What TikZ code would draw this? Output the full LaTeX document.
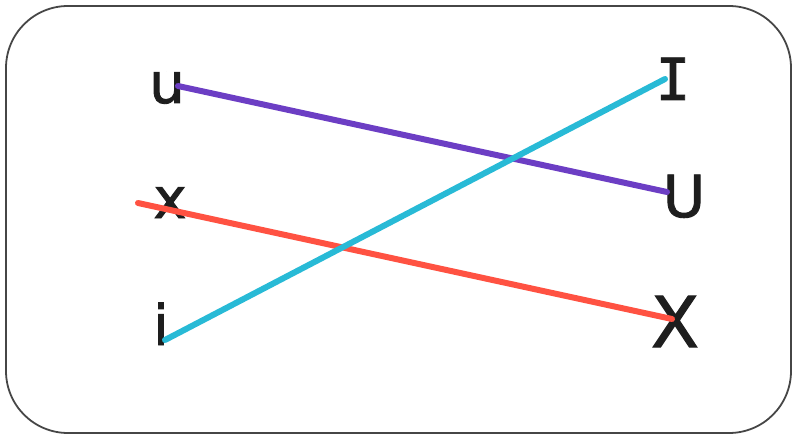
\documentclass[tikz,border=0pt]{standalone}
\usepackage{fontspec}
\newfontfamily\letterfont[FakeBold=1.6]{DejaVu Sans}
\newfontfamily\monofont[FakeBold=1.6]{DejaVu Sans Mono}
\definecolor{lpurple}{RGB}{108,62,196}
\definecolor{lcyan}{RGB}{40,186,214}
\definecolor{lred}{RGB}{255,82,66}
\definecolor{ink}{RGB}{30,30,30}
\definecolor{frame}{RGB}{70,70,70}
\begin{document}
\begin{tikzpicture}[x=1pt,y=-1pt,
  letter/.style={anchor=base,inner sep=0pt,text=ink,font=\letterfont\fontsize{56}{56}\selectfont},
  stroke/.style={line width=6pt,line cap=round}]
\useasboundingbox (0,0) rectangle (795,441);
\draw[frame,line width=1.8pt,rounded corners=62pt] (6,6) rectangle (791,433);
% letters
\node[letter,font=\monofont\fontsize{58}{58}\selectfont] (I) at (673,100) {I};
\node[letter] (u) at (167,103) {u};
\node[letter] (x) at (170,218) {x};
\node[letter,font=\letterfont\fontsize{58}{58}\selectfont] (U) at (684,217) {U};
\node[letter] (i) at (161,345) {i};
\node[letter,font=\letterfont\fontsize{70}{70}\selectfont] (X) at (675,347) {X};
% line ends
\coordinate (pu) at (178,86);
\coordinate (pU) at (667,192);
\coordinate (ci) at (165,340);
\coordinate (cI) at (665,79);
\coordinate (rx) at (138,203);
\coordinate (rX) at (672,319);
\draw[stroke,lred] (rx) -- (rX);
\draw[stroke,lpurple] (pu) -- (pU);
\draw[stroke,lcyan] (ci) -- (cI);
\end{tikzpicture}
\end{document}
